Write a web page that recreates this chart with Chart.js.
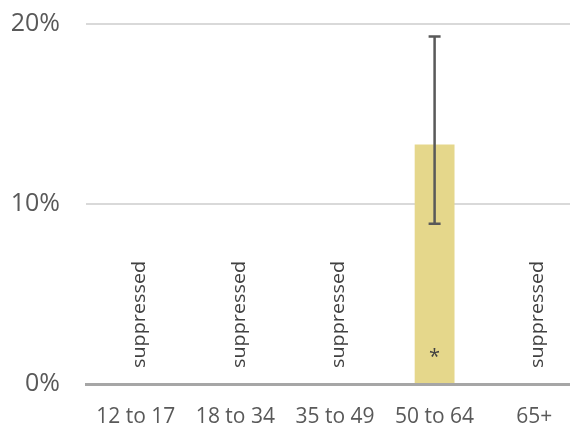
<!DOCTYPE html>
<html>
<head>
<meta charset="utf-8">
<script src="https://cdn.jsdelivr.net/npm/chart.js@4"></script>
<style>
  body { margin: 0; overflow: hidden; background: #fff; }
</style>
</head>
<body>
<canvas id="myChart" width="600" height="423"></canvas>
<script>
const categories = ['12 to 17', '18 to 34', '35 to 49', '50 to 64', '65+'];
const values = [null, null, null, 13.3, null];
const errLow = [null, null, null, 8.9, null];
const errHigh = [null, null, null, 19.3, null];
const notes = ['suppressed', 'suppressed', 'suppressed', '*', 'suppressed'];
const yTicks = [0, 10, 20];

const ctx = document.getElementById('myChart').getContext('2d');

// error bars + the text notes drawn on top of the bars
const extras = {
  id: 'extras',
  afterDraw(chart) {
    const x = chart.scales.x;
    const y = chart.scales.y;
    const c = chart.ctx;
    const base = y.getPixelForValue(0);
    c.save();
    for (let i = 0; i < categories.length; i++) {
      const cx = x.getPixelForValue(i);
      if (errLow[i] !== null) {
        const top = y.getPixelForValue(errHigh[i]);
        const bot = y.getPixelForValue(errLow[i]);
        c.strokeStyle = '#595959';
        c.lineWidth = 2.5;
        c.beginPath();
        c.moveTo(cx, top);
        c.lineTo(cx, bot);
        c.moveTo(cx - 6, top);
        c.lineTo(cx + 6, top);
        c.moveTo(cx - 6, bot);
        c.lineTo(cx + 6, bot);
        c.stroke();
      }
      c.fillStyle = '#404040';
      if (notes[i] === 'suppressed') {
        c.save();
        c.translate(cx + 4, base - 16);
        c.rotate(-Math.PI / 2);
        c.scale(1.1, 1);
        c.font = '18px "Open Sans"';
        c.textAlign = 'left';
        c.textBaseline = 'middle';
        c.fillText(notes[i], 0, 0);
        c.restore();
      } else if (notes[i]) {
        c.font = '20px "Open Sans"';
        c.textAlign = 'center';
        c.textBaseline = 'middle';
        c.fillText(notes[i], cx, base - 27);
      }
    }
    c.restore();
  }
};

new Chart(ctx, {
  type: 'bar',
  data: {
    labels: categories,
    datasets: [{
      data: values,
      backgroundColor: '#e5d78b',
      barPercentage: 0.4,
      categoryPercentage: 1
    }]
  },
  options: {
    responsive: false,
    animation: false,
    layout: { padding: { top: 24, right: 16, left: 0, bottom: 0 } },
    plugins: {
      legend: { display: false },
      tooltip: { enabled: false }
    },
    scales: {
      x: {
        z: 1,
        grid: { display: false },
        border: { color: '#a6a6a6', width: 3 },
        ticks: {
          color: '#595959',
          font: { family: 'Open Sans', size: 21 },
          padding: 12,
          maxRotation: 0
        },
        afterFit(scale) { scale.height = 39; }
      },
      y: {
        min: 0,
        max: 20,
        afterBuildTicks(scale) { scale.ticks = yTicks.map(v => ({ value: v })); },
        grid: {
          drawTicks: false,
          lineWidth: 2,
          color: c => c.tick && c.tick.value === 0 ? 'rgba(0,0,0,0)' : '#d9d9d9'
        },
        border: { display: false },
        ticks: {
          color: '#595959',
          font: { family: 'Open Sans', size: 25 },
          padding: 26,
          callback: v => v + '%'
        },
        afterFit(scale) {
          scale.width = 86;
          scale.paddingTop = 0;
          scale.paddingBottom = 0;
        }
      }
    }
  },
  plugins: [extras]
});
</script>
</body>
</html>
